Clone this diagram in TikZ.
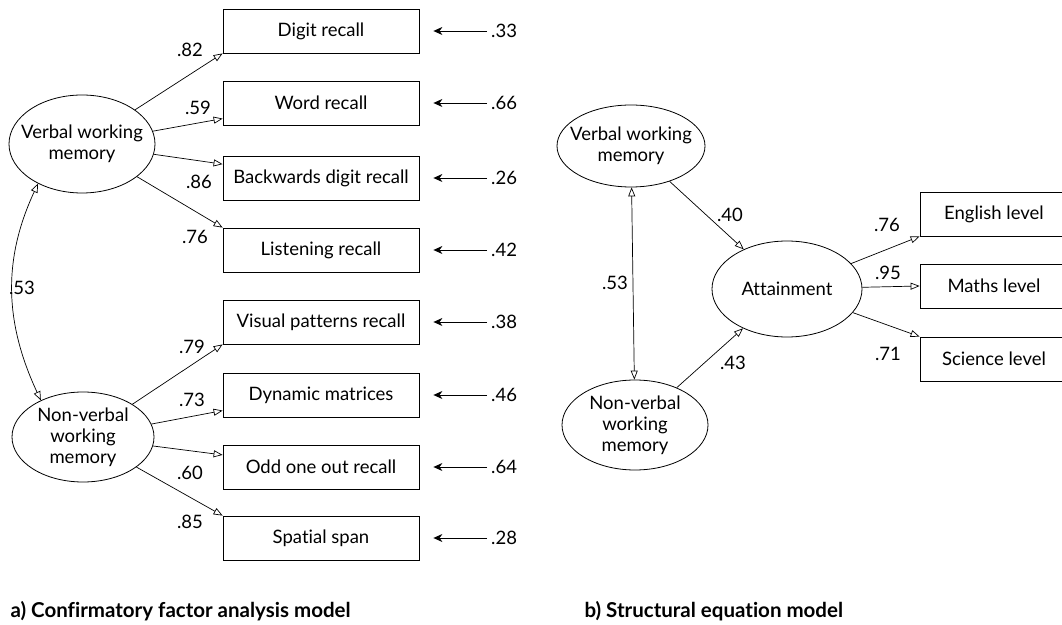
\documentclass[tikz,border=0pt]{standalone}
\usepackage{fontspec}
\setmainfont[Ligatures=NoCommon]{Lato}
\usetikzlibrary{arrows.meta, shapes.geometric}

\begin{document}
\begin{tikzpicture}[x=1pt, y=1pt,
  font=\fontsize{18.5}{21}\selectfont,
  lat/.style={ellipse, draw, line width=0.8pt, inner sep=0pt},
  obs/.style={draw, line width=0.8pt, minimum width=196pt, minimum height=44pt, inner sep=0pt},
  num/.style={inner sep=1pt},
  arr/.style={-{Triangle[open, length=9pt, width=7pt]}, line width=0.7pt},
  cov/.style={{Triangle[open, length=9pt, width=7pt]}-{Triangle[open, length=9pt, width=7pt]}, line width=0.7pt},
  err/.style={-{Stealth[length=9pt, width=8pt]}, line width=0.7pt, shorten <=3pt, shorten >=14pt}]
\useasboundingbox (0,0) rectangle (1062,624);
\clip (0,0) rectangle (1062,624);
% a) latent factors
\node[lat, minimum width=146pt, minimum height=98pt, label={[align=center]center:Verbal working\\memory}] (vwm) at (82,480) {};
\node[lat, minimum width=142pt, minimum height=90pt, label={[align=center]center:Non-verbal\\working\\memory}] (nvwm) at (83,187) {};
% a) tasks with error terms
\foreach \n/\y/\t/\e in {dig/593/Digit recall/.33, wrd/521/Word recall/.66,
  bdr/446/Backwards digit recall/.26, lis/374/Listening recall/.42,
  vis/302/Visual patterns recall/.38, dyn/229/Dynamic matrices/.46,
  odd/157/Odd one out recall/.64, spa/86/Spatial span/.28}{
  \node[obs] (\n) at (321,\y) {\t};
  \node[num, anchor=west] (e\n) at (490,\y) {\e};
  \draw[err] (e\n) -- (\n);
}
% a) loadings
\draw[arr] (vwm) -- (dig.south west);
\draw[arr] (vwm) -- (wrd.189);
\draw[arr] (vwm) -- (bdr.172);
\draw[arr] (vwm) -- (lis.north west);
\node[num] at (190,574) {.82};
\node[num] at (198,516) {.59};
\node[num] at (199,442) {.86};
\node[num] at (195,387) {.76};
\draw[arr] (nvwm) -- (vis.south west);
\draw[arr] (nvwm) -- (dyn.189);
\draw[arr] (nvwm) -- (odd.173);
\draw[arr] (nvwm) -- (spa.north west);
\node[num] at (192,277) {.79};
\node[num] at (192,224) {.73};
\node[num] at (190,151) {.60};
\node[num] at (190,102) {.85};
% a) correlation
\draw[cov] (vwm.222) to[out=245, in=115] (nvwm.139);
\node[num] at (22,336) {.53};
% b) structural model
\node[lat, minimum width=148pt, minimum height=82pt, label={[align=center]center:Verbal working\\memory}] (rvwm) at (631,478) {};
\node[lat, minimum width=146pt, minimum height=90pt, label={[align=center]center:Non-verbal\\working\\memory}] (rnvwm) at (635,199) {};
\node[lat, minimum width=150pt, minimum height=96pt] (att) at (787,335) {Attainment};
\node[obs, minimum width=148pt] (eng) at (994,410) {English level};
\node[obs, minimum width=148pt] (mat) at (994,338) {Maths level};
\node[obs, minimum width=148pt] (sci) at (994,265) {Science level};
\draw[cov] (rvwm) -- (rnvwm);
\node[num] at (615,341) {.53};
\draw[arr] (rvwm) -- (att);
\node[num] at (730,409) {.40};
\draw[arr] (rnvwm) -- (att);
\node[num] at (733,261) {.43};
\draw[arr] (att) -- (eng.south west);
\draw[arr] (att) -- (mat.west);
\draw[arr] (att) -- (sci.north west);
\node[num] at (887,399) {.76};
\node[num] at (888,351) {.95};
\node[num] at (888,270) {.71};
% captions
\node[font=\bfseries\fontsize{20.5}{24}\selectfont, anchor=west] (capa) at (7,13) {a) Confirmatory factor analysis model};
\node[font=\bfseries\fontsize{20.5}{24}\selectfont, anchor=west] (capb) at (581,13) {b) Structural equation model};
\end{tikzpicture}
\end{document}
